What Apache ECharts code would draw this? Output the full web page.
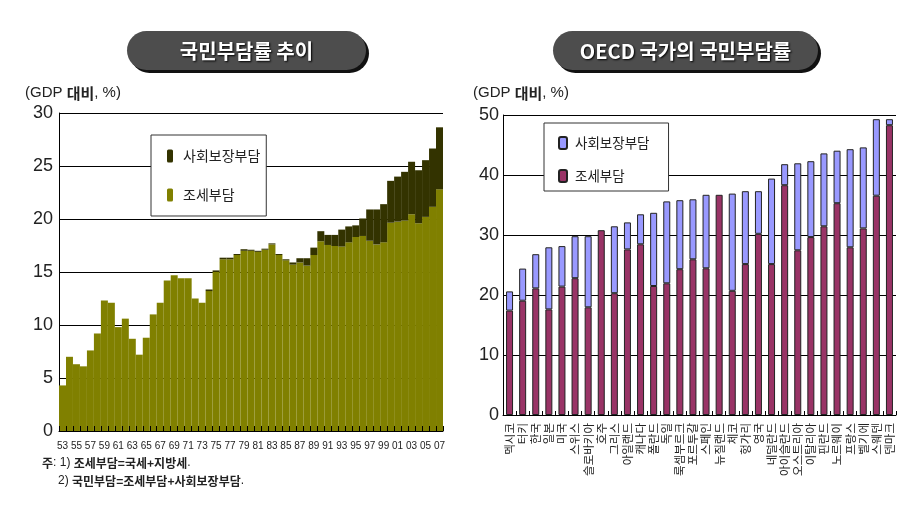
<!DOCTYPE html>
<html>
<head>
<meta charset="utf-8">
<script src="https://cdn.jsdelivr.net/npm/echarts@6/dist/echarts.min.js"></script>
<style>
html,body{margin:0;padding:0;background:#fff;}
#c{width:906px;height:511px;}
</style>
</head>
<body>
<div id="c"></div>
<script>
// ---- Left chart: 국민부담률 추이 ----
const years = ['53','54','55','56','57','58','59','60','61','62','63','64','65','66','67','68','69','70','71','72','73','74','75','76','77','78','79','80','81','82','83','84','85','86','87','88','89','90','91','92','93','94','95','96','97','98','99','00','01','02','03','04','05','06','07'];
const taxBurden = [4.3,7.0,6.3,6.1,7.6,9.2,12.3,12.1,9.8,10.6,8.7,7.2,8.8,11.0,12.1,14.2,14.7,14.4,14.4,12.5,12.1,13.2,15.0,16.2,16.2,16.6,17.0,17.0,16.9,17.1,17.6,16.6,16.1,15.7,15.9,15.6,16.6,17.9,17.55,17.45,17.4,17.8,18.3,18.4,17.95,17.6,17.8,19.65,19.75,19.85,20.45,19.6,20.2,21.15,22.8];
const socialBurden = [0,0,0,0,0,0,0,0,0,0,0,0,0,0,0,0,0,0,0,0,0,0.15,0.15,0.15,0.15,0.1,0.15,0.1,0.1,0.1,0.1,0.1,0.1,0.2,0.4,0.7,0.7,0.95,0.95,1.05,1.6,1.5,1.1,1.65,2.95,3.3,3.6,3.95,4.25,4.6,4.95,5.0,5.35,5.5,5.85];
const leftTicks = [0,5,10,15,20,25,30];

// ---- Right chart: OECD 국가의 국민부담률 ----
const countries = ['멕시코','터키','한국','일본','미국','스위스','슬로바키아','호주','그리스','아일랜드','캐나다','폴란드','독일','룩셈부르크','포르투갈','스페인','뉴질랜드','체코','헝가리','영국','네덜란드','아이슬란드','오스트리아','이탈리아','핀란드','노르웨이','프랑스','벨기에','스웨덴','덴마크'];
const oecdTax = [17.4,19.05,21.1,17.6,21.4,22.8,17.95,30.8,20.3,27.6,28.45,21.5,21.95,24.3,25.95,24.45,36.7,20.7,25.15,30.2,25.15,38.3,27.45,29.65,31.45,35.3,27.95,31.1,36.55,48.3];
const oecdSocial = [3.2,5.35,5.7,10.35,6.75,7.0,11.85,null,11.15,4.5,5.0,12.2,13.65,11.5,10.0,12.25,null,16.2,12.15,7.1,14.25,3.5,14.5,12.65,12.15,8.75,16.35,13.5,12.75,1.0];
const rightTicks = [0,10,20,30,40,50];

const NUM = '"Liberation Sans", Arial, "Noto Sans CJK KR", sans-serif';
const KR = '"Noto Sans CJK KR", "Liberation Sans", sans-serif';

const chart = echarts.init(document.getElementById('c'), null, {renderer:'canvas'});

function pill(x, y, w, h, text) {
  return [
    {type:'rect', shape:{x:x+3, y:y+3, width:w, height:h, r:h/2}, style:{fill:'#111'}, z:1},
    {type:'rect', shape:{x:x, y:y, width:w, height:h, r:h/2}, style:{fill:'#4d4d4d'}, z:2},
    {type:'text', x:x+w/2, y:y+h/2+1, z:3, style:{text:text, fill:'#fff', font:'bold 20px ' + KR, align:'center', verticalAlign:'middle', textShadowColor:'#000', textShadowBlur:2, textShadowOffsetX:1, textShadowOffsetY:1}}
  ];
}
function unitLabel(x, y) {
  return {type:'text', x:x, y:y, z:3, style:{
    text:'{n|(GDP }{b|대비}{n|, %)}', verticalAlign:'middle',
    rich:{ n:{fontSize:15, fontFamily:NUM, fill:'#222'}, b:{fontSize:15, fontFamily:KR, fontWeight:'bold', fill:'#222'} }
  }};
}

const option = {
  backgroundColor:'#fff',
  animation:false,
  graphic: [].concat(
    pill(127, 31, 239, 39, '국민부담률 추이'),
    pill(553, 31, 265, 39, 'OECD 국가의 국민부담률'),
    [unitLabel(25, 93), unitLabel(473, 93),
     {type:'text', x:42, y:463, z:3, style:{text:'{b|주}{n|: 1) }{b|조세부담=국세+지방세}{n|.}', verticalAlign:'middle',
       rich:{n:{fontSize:12, fontFamily:NUM, fill:'#222'}, b:{fontSize:12, fontFamily:KR, fontWeight:'bold', fill:'#222'}}}},
     {type:'text', x:58, y:481, z:3, style:{text:'{n|2) }{b|국민부담=조세부담+사회보장부담}{n|.}', verticalAlign:'middle',
       rich:{n:{fontSize:12, fontFamily:NUM, fill:'#222'}, b:{fontSize:12, fontFamily:KR, fontWeight:'bold', fill:'#222'}}}}
    ]
  ),
  legend: [
    {
      left:151, top:135, orient:'vertical', data:['사회보장부담','조세부담'],
      padding:[14,6,14,16], itemWidth:6, itemHeight:13, itemGap:25,
      borderColor:'#333', borderWidth:1, backgroundColor:'#fff',
      textStyle:{fontSize:14, fontFamily:KR, color:'#222', padding:[0,0,0,5]},
      selectedMode:false
    },
    {
      left:544, top:123, orient:'vertical', data:['사회보장부담 ','조세부담 '],
      padding:[13,16,8,14], itemWidth:8, itemHeight:12, itemGap:19,
      borderColor:'#333', borderWidth:1, backgroundColor:'#fff',
      textStyle:{fontSize:13.5, fontFamily:KR, color:'#222', padding:[0,0,0,3]},
      selectedMode:false
    }
  ],
  grid: [
    {left:59, right:463, top:113, bottom:80},
    {left:503, right:10, top:115, bottom:96}
  ],
  xAxis: [
    {
      type:'category', gridIndex:0, data:years, z:5,
      axisLine:{lineStyle:{color:'#000', width:1}},
      axisTick:{show:true, inside:true, length:5, interval:0, lineStyle:{color:'#000'}},
      axisLabel:{interval:1, fontSize:10, fontFamily:NUM, color:'#222', margin:10}
    },
    {
      type:'category', gridIndex:1, data:countries, z:5,
      axisLine:{lineStyle:{color:'#000', width:1}},
      axisTick:{show:true, inside:true, length:4, interval:0, lineStyle:{color:'#000'}},
      axisLabel:{interval:0, rotate:90, fontSize:11.5, fontFamily:KR, color:'#222', margin:8}
    }
  ],
  yAxis: [
    {
      type:'value', gridIndex:0, min:leftTicks[0], max:leftTicks[leftTicks.length-1], interval:5,
      axisLine:{show:true, lineStyle:{color:'#000'}}, axisTick:{show:false},
      splitLine:{lineStyle:{color:'#000', width:1}},
      axisLabel:{fontSize:18, fontFamily:NUM, color:'#222', margin:6}
    },
    {
      type:'value', gridIndex:1, min:rightTicks[0], max:rightTicks[rightTicks.length-1], interval:10,
      axisLine:{show:true, lineStyle:{color:'#000'}}, axisTick:{show:false},
      splitLine:{lineStyle:{color:'#000', width:1}},
      axisLabel:{fontSize:18, fontFamily:NUM, color:'#222', margin:4}
    }
  ],
  series: [
    {name:'조세부담', type:'bar', xAxisIndex:0, yAxisIndex:0, stack:'L', data:taxBurden,
     barCategoryGap:'0%', itemStyle:{color:'#808000'}},
    {name:'사회보장부담', type:'bar', xAxisIndex:0, yAxisIndex:0, stack:'L', data:socialBurden,
     barCategoryGap:'0%', itemStyle:{color:'#333300'}},
    {name:'조세부담 ', type:'bar', xAxisIndex:1, yAxisIndex:1, stack:'R', data:oecdTax,
     barWidth:7, itemStyle:{color:'#993366', borderColor:'#222', borderWidth:1}},
    {name:'사회보장부담 ', type:'bar', xAxisIndex:1, yAxisIndex:1, stack:'R', data:oecdSocial,
     barWidth:7, itemStyle:{color:'#9999ff', borderColor:'#222', borderWidth:1}}
  ]
};
chart.setOption(option);
</script>
</body>
</html>
